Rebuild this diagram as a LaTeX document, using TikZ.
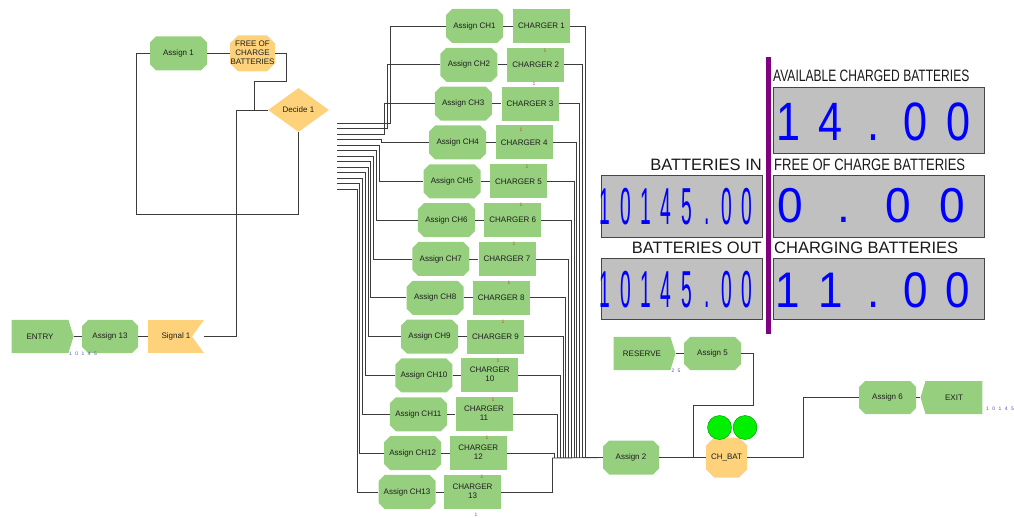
\documentclass[tikz,border=0pt]{standalone}
\usepackage{fontspec}
\usepackage{graphicx}
\setmainfont{Liberation Sans}
\usetikzlibrary{shapes.geometric,shapes.symbols,calc}
\definecolor{agreen}{RGB}{150,207,126}
\definecolor{aorange}{RGB}{253,210,123}
\definecolor{aline}{RGB}{60,60,60}
\definecolor{dgray}{RGB}{192,192,192}
\definecolor{dborder}{RGB}{70,70,70}
\definecolor{dblue}{RGB}{0,0,255}
\definecolor{abar}{RGB}{128,0,128}
\definecolor{cntblue}{RGB}{80,80,200}
\definecolor{markred}{RGB}{175,85,60}
\definecolor{atext}{RGB}{30,30,30}
\definecolor{cgreen}{RGB}{0,240,0}
\newcommand{\nf}{\fontsize{8}{8.8}\selectfont}
\newcommand{\zt}[1]{\makebox[0pt]{\begin{tabular}{@{}c@{}}#1\end{tabular}}}
\newcommand{\cell}[3]{\makebox[#1pt]{\scalebox{#2}[1]{#3}}}
\newcommand{\ctc}[1]{\makebox[6.2pt]{#1}}
% chamfered node: fill colour, name, x, y, width, height, chamfer, text
\newcommand{\chnode}[8]{%
  \fill[#1] ({#3-#5/2+#7},{#4-#6/2}) -- ({#3+#5/2-#7},{#4-#6/2}) -- ({#3+#5/2},{#4-#6/2+#7})
    -- ({#3+#5/2},{#4+#6/2-#7}) -- ({#3+#5/2-#7},{#4+#6/2}) -- ({#3-#5/2+#7},{#4+#6/2})
    -- ({#3-#5/2},{#4+#6/2-#7}) -- ({#3-#5/2},{#4-#6/2+#7}) -- cycle;
  \node[plain,minimum width=#5pt,minimum height=#6pt] (#2) at (#3,#4) {#8};}
\begin{document}
\begin{tikzpicture}[x=1pt,y=-1pt,
  conn/.style={draw=aline,line width=0.9pt},
  plain/.style={rectangle,inner sep=0pt,font=\nf,text=atext},
  charger/.style={rectangle,fill=agreen,minimum width=57pt,minimum height=34pt,inner sep=0pt,font=\nf,text=atext},
  create/.style={signal,signal to=east,signal from=nowhere,signal pointer angle=146,
    fill=agreen,minimum width=62pt,minimum height=33pt,inner sep=0pt,font=\nf,text=atext},
  dispose/.style={signal,signal to=west,signal from=nowhere,signal pointer angle=146,
    fill=agreen,minimum width=62pt,minimum height=33pt,inner sep=0pt,font=\nf,text=atext},
  disp/.style={draw=dborder,fill=dgray,line width=0.9pt},
  dlabel/.style={inner sep=0pt,font=\fontsize{16.5}{18}\selectfont,text=black!90},
  digits/.style={inner sep=0pt,text=dblue,anchor=base west},
  counter/.style={inner sep=0pt,font=\fontsize{5}{5}\selectfont,text=cntblue},
  redmark/.style={inner sep=0pt,font=\fontsize{5}{5}\selectfont,text=markred}
]
\useasboundingbox (0,0) rectangle (1014,518);

% ---------- left part ----------
\chnode{agreen}{as1}{178.5}{53.5}{57}{34}{6}{Assign 1}
\chnode{aorange}{free}{252.5}{53.5}{45}{36}{8}{\zt{FREE OF\\CHARGE\\BATTERIES}}
\node[diamond,fill=aorange,minimum width=61pt,minimum height=44pt,inner sep=0pt,font=\nf,text=atext] (dec) at (298.5,110) {Decide 1};

\node[create] (entry) at (40,336.5) {ENTRY};
\chnode{agreen}{as13}{110}{336.5}{56}{33}{6}{Assign 13}
\node[rectangle,fill=aorange,minimum width=56pt,minimum height=33pt,inner sep=0pt,font=\nf,text=atext] (sig) at (176,336.5) {Signal 1};
\fill[white] (sig.north east) -- ($(sig.east)+(-12,0)$) -- (sig.south east) -- cycle;
\node[counter] (cnt1) at (83,354) {\ctc{1}\ctc{0}\ctc{1}\ctc{4}\ctc{5}};

\draw[conn] (as1.east) -- (free.west);
\draw[conn] (free.east) -| (286,81) -| (254,110) -- (dec.west);
\draw[conn] (dec.south) -- ++(0,82) -| ($(as1.west)+(-13,0)$) -- (as1.west);
\draw[conn] (entry.east) -- (as13.west);
\draw[conn] (as13.east) -- (sig.west);
\draw[conn] (sig.east) -| (236,110) -- (dec.west);

% ---------- chargers ----------
\foreach \i in {1,...,13} {
  \pgfmathsetmacro\yy{26+(\i-1)*38.83}
  \pgfmathsetmacro\xa{474.5-(\i-1)*5.62}
  \pgfmathsetmacro\xc{541.5-(\i-1)*5.75}
  \chnode{agreen}{ach\i}{\xa}{\yy}{57}{34}{6}{Assign CH\i}
  \ifnum\i<10
    \node[charger] (ch\i) at (\xc,\yy) {CHARGER \i};
  \else
    \node[charger] (ch\i) at (\xc,\yy) {\zt{CHARGER\\\i}};
  \fi
  \draw[conn] (ach\i.east) -- (ch\i.west);
  \pgfmathsetmacro\ey{123.3+(\i-1)*5.5}
  \pgfmathsetmacro\ex{390-(\i-1)*2.75}
  \coordinate (dx\i) at (337,\ey);
  \draw[conn] (dx\i) -- (\ex,\ey) |- (ach\i.west);
  \pgfmathsetmacro\rx{585-(\i-1)*2.75}
  \draw[conn] (ch\i.east) -| (\rx,458);
}
\foreach \n/\mx/\my in {2/545/51,3/534/84,4/521/130,5/527/167,6/521/205,7/514/244,8/509/283,9/503/322,10/498/361,11/493/400,12/487/438,13/482/477,14/476/515} {
  \node[redmark] (mk\n) at (\mx,\my) {1};
}

% ---------- right part ----------
\chnode{agreen}{as2}{631}{457.5}{56}{34}{6}{Assign 2}
\chnode{aorange}{chbat}{726.5}{457.5}{41}{40}{8}{\zt{CH\_BAT}}
\node[circle,fill=cgreen,draw=green!55!black,line width=0.4pt,minimum size=24pt,inner sep=0pt] (c1) at (719.5,427.5) {};
\node[circle,fill=cgreen,draw=green!55!black,line width=0.4pt,minimum size=24pt,inner sep=0pt] (c2) at (745,427.5) {};
\node[create] (reserve) at (642,353.5) {RESERVE};
\chnode{agreen}{as5}{712.5}{353.5}{57}{33}{6}{Assign 5}
\node[counter] (cnt2) at (676,371) {\ctc{2}\ctc{5}};
\chnode{agreen}{as6}{887.5}{397.5}{57}{33}{6}{Assign 6}
\node[dispose] (exit) at (954,397.5) {EXIT};
\node[counter] (cnt3) at (1000,409) {\ctc{1}\ctc{0}\ctc{1}\ctc{4}\ctc{5}};

\coordinate (bus) at (552,458);
\coordinate (join) at (693,457.5);
\draw[conn] (bus) -- (as2.west);
\draw[conn] (as2.east) -- (chbat.west);
\draw[conn] (reserve.east) -- (as5.west);
\draw[conn] (as5.east) -| (753,405) -| (join);
\draw[conn] (chbat.east) -| (803,397.5) -- (as6.west);
\draw[conn] (as6.east) -- (exit.west);

% ---------- displays ----------
\fill[abar] (765.5,57) rectangle (770.5,334);
\draw[disp] (773,87) rectangle (984,153);
\draw[disp] (773,175) rectangle (984,237);
\draw[disp] (773,258) rectangle (984,319);
\draw[disp] (601,175) rectangle (762,237);
\draw[disp] (601,258) rectangle (762,319);

\node[dlabel,anchor=base west] (l1) at (773,82) {\scalebox{0.73}[1]{AVAILABLE CHARGED BATTERIES}};
\node[dlabel,anchor=base east] (l2) at (762,170.5) {BATTERIES IN};
\node[dlabel,anchor=base west] (l3) at (774,170.5) {\scalebox{0.79}[1]{FREE OF CHARGE BATTERIES}};
\node[dlabel,anchor=base east] (l4) at (762,254) {BATTERIES OUT};
\node[dlabel,anchor=base west] (l5) at (774,254) {CHARGING BATTERIES};

\node[digits,font=\fontsize{54}{54}\selectfont] (v1) at (766.75,141)
  {\cell{42.5}{0.8}{1}\cell{42.5}{0.8}{4}\cell{42.5}{0.8}{.}\cell{42.5}{0.8}{0}\cell{42.5}{0.8}{0}};
\node[digits,font=\fontsize{49}{49}\selectfont] (v2) at (763,223)
  {\cell{54}{0.94}{0}\cell{54}{0.94}{.}\cell{54}{0.94}{0}\cell{54}{0.94}{0}};
\node[digits,font=\fontsize{50}{50}\selectfont] (v3) at (766.75,308)
  {\cell{42.5}{0.88}{1}\cell{42.5}{0.88}{1}\cell{42.5}{0.88}{.}\cell{42.5}{0.88}{0}\cell{42.5}{0.88}{0}};
\node[digits,font=\fontsize{52}{52}\selectfont] (v4) at (594.85,225)
  {\cell{20.3}{0.37}{1}\cell{20.3}{0.37}{0}\cell{20.3}{0.37}{1}\cell{20.3}{0.37}{4}\cell{20.3}{0.37}{5}\cell{20.3}{0.37}{.}\cell{20.3}{0.37}{0}\cell{20.3}{0.37}{0}};
\node[digits,font=\fontsize{52}{52}\selectfont] (v5) at (594.85,308)
  {\cell{20.3}{0.37}{1}\cell{20.3}{0.37}{0}\cell{20.3}{0.37}{1}\cell{20.3}{0.37}{4}\cell{20.3}{0.37}{5}\cell{20.3}{0.37}{.}\cell{20.3}{0.37}{0}\cell{20.3}{0.37}{0}};
\end{tikzpicture}
\end{document}
